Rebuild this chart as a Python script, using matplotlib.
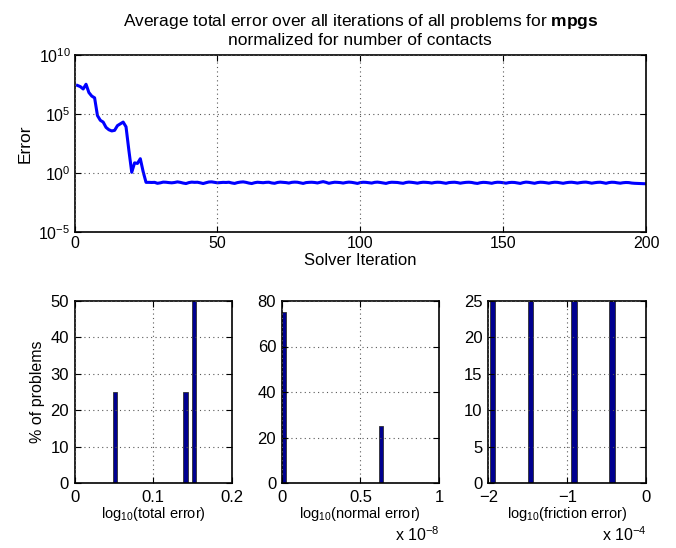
import numpy as np
import matplotlib
matplotlib.use("Agg")
import matplotlib.pyplot as plt
from matplotlib.ticker import FixedLocator, NullLocator, FixedFormatter

plt.rcParams['font.family'] = ['Liberation Sans', 'DejaVu Sans']
plt.rcParams['mathtext.fontset'] = 'custom'
plt.rcParams['mathtext.rm'] = 'Liberation Sans'
plt.rcParams['mathtext.it'] = 'Liberation Sans:italic'
plt.rcParams['mathtext.bf'] = 'Liberation Sans:bold'

# ---- data: log10 of average total error per solver iteration (1..200) ----
log_err_head = [7.4, 7.3, 7.1, 7.5, 6.8, 6.5, 6.35, 4.85, 4.45, 4.3,
                3.85, 3.65, 3.55, 3.6, 4.0, 4.15, 4.3, 3.9, 1.9, 0.05,
                0.85, 0.8, 1.2, 0.1, -0.8]
log_err_tail = [-0.80, -0.81, -0.80, -0.88, -0.84, -0.78, -0.79, -0.82, -0.84, -0.81,
                -0.76, -0.80, -0.86, -0.90, -0.82, -0.78, -0.80, -0.79, -0.84, -0.90,
                -0.83, -0.77, -0.76, -0.80, -0.84, -0.82, -0.80, -0.81, -0.79, -0.85,
                -0.89, -0.82, -0.78, -0.76, -0.80, -0.86, -0.90, -0.83, -0.79, -0.81,
                -0.83, -0.80, -0.79, -0.85, -0.88, -0.81, -0.78, -0.80, -0.82, -0.86,
                -0.80, -0.78, -0.79, -0.84, -0.89, -0.82, -0.80, -0.79, -0.81, -0.85,
                -0.79, -0.74, -0.80, -0.88, -0.83, -0.79, -0.80, -0.82, -0.86, -0.81,
                -0.78, -0.80, -0.84, -0.89, -0.82, -0.79, -0.80, -0.83, -0.86, -0.80,
                -0.78, -0.81, -0.85, -0.89, -0.82, -0.79, -0.80, -0.81, -0.85, -0.88,
                -0.81, -0.78, -0.80, -0.83, -0.87, -0.82, -0.79, -0.80, -0.82, -0.86,
                -0.81, -0.79, -0.80, -0.84, -0.88, -0.82, -0.80, -0.79, -0.82, -0.87,
                -0.83, -0.80, -0.79, -0.81, -0.86, -0.89, -0.83, -0.80, -0.81, -0.84,
                -0.88, -0.82, -0.79, -0.80, -0.83, -0.87, -0.82, -0.80, -0.81, -0.85,
                -0.89, -0.82, -0.78, -0.80, -0.84, -0.88, -0.82, -0.79, -0.80, -0.83,
                -0.87, -0.82, -0.79, -0.80, -0.84, -0.88, -0.83, -0.80, -0.79, -0.82,
                -0.86, -0.82, -0.79, -0.78, -0.82, -0.87, -0.83, -0.80, -0.79, -0.83,
                -0.88, -0.82, -0.79, -0.80, -0.84, -0.87, -0.83, -0.81, -0.82, -0.86,
                -0.88, -0.89, -0.90, -0.91, -0.92]
log_err = log_err_head + log_err_tail
iterations = list(range(1, len(log_err) + 1))

# ---- histogram data (% of problems) ----
total_centers = [0.0513, 0.141, 0.152]
total_pct = [25, 25, 50]
total_width = 0.0055

normal_centers = [0.016e-8, 0.629e-8]
normal_pct = [75, 25]
normal_width = 0.028e-8

friction_centers = [-1.947e-4, -1.466e-4, -0.910e-4, -0.434e-4]
friction_pct = [25, 25, 25, 25]
friction_width = 0.075e-4

W, H = 676, 548
fig = plt.figure(figsize=(W / 100, H / 100), dpi=100)

def box(x0, y0, x1, y1):
    return [x0 / W, 1 - y1 / H, (x1 - x0) / W, (y1 - y0) / H]

grid_kw = dict(color='0.35', linestyle=(0, (1, 3)), linewidth=0.8)

def style(ax, fs, xpad=3, ypad=3):
    ax.tick_params(direction='in', top=True, right=True, length=4, width=0.8,
                   labelsize=fs)
    ax.tick_params(axis='x', pad=xpad)
    ax.tick_params(axis='y', pad=ypad)
    for s in ax.spines.values():
        s.set_linewidth(1.2)
    ax.grid(True, **grid_kw)
    ax.set_axisbelow(False)

# ---- top line plot ----
ax = fig.add_axes(box(74.6, 54.7, 646, 232))
ax.plot(iterations, 10.0 ** np.array(log_err), color='#0000ff', linewidth=2.2)
ax.set_yscale('log')
ax.set_xlim(0, 200)
ax.set_ylim(1e-5, 1e10)
ax.yaxis.set_major_locator(FixedLocator([1e-5, 1e0, 1e5, 1e10]))
ax.yaxis.set_minor_locator(NullLocator())
ax.set_xticks([0, 50, 100, 150, 200])
style(ax, 11.5)
ax.set_xlabel('Solver Iteration', fontsize=12, labelpad=1)
ax.set_ylabel('Error', fontsize=12.5, labelpad=4)
ax.set_title('Average total error over all iterations of all problems for $\\bf{mpgs}$\n'
             'normalized for number of contacts', fontsize=12.5, pad=7, linespacing=1.2)

# ---- bottom histograms ----
y_top, y_bot = 301, 483
ax1 = fig.add_axes(box(74.6, y_top, 231.7, y_bot))
ax1.bar(total_centers, total_pct, width=total_width, color='#00008f',
        edgecolor='#303030', linewidth=0.6)
ax1.set_xlim(0, 0.2)
ax1.set_ylim(0, 50)
ax1.set_xticks([0, 0.1, 0.2])
ax1.xaxis.set_major_formatter(FixedFormatter(['0', '0.1', '0.2']))
ax1.set_yticks([0, 10, 20, 30, 40, 50])
style(ax1, 12, xpad=5, ypad=4)
ax1.set_xlabel('log$_{10}$(total error)', fontsize=10.5, labelpad=0)
ax1.set_ylabel('% of problems', fontsize=11.5, labelpad=4)

ax2 = fig.add_axes(box(281.7, y_top, 439.2, y_bot))
ax2.bar(normal_centers, normal_pct, width=normal_width, color='#00008f',
        edgecolor='#303030', linewidth=0.6)
ax2.set_xlim(0, 1e-8)
ax2.set_ylim(0, 80)
ax2.set_xticks([0, 0.5e-8, 1e-8])
ax2.xaxis.set_major_formatter(FixedFormatter(['0', '0.5', '1']))
ax2.set_yticks([0, 20, 40, 60, 80])
style(ax2, 12, xpad=5, ypad=4)
ax2.set_xlabel('log$_{10}$(normal error)', fontsize=10.5, labelpad=0)
ax2.text(1.0, -0.235, 'x 10$^{-8}$', transform=ax2.transAxes, ha='right', va='top',
         fontsize=11.5)

ax3 = fig.add_axes(box(488.3, y_top, 646.3, y_bot))
ax3.bar(friction_centers, friction_pct, width=friction_width, color='#00008f',
        edgecolor='#303030', linewidth=0.6)
ax3.set_xlim(-2e-4, 0)
ax3.set_ylim(0, 25)
ax3.set_xticks([-2e-4, -1e-4, 0])
ax3.xaxis.set_major_formatter(FixedFormatter(['\u22122', '\u22121', '0']))
ax3.set_yticks([0, 5, 10, 15, 20, 25])
style(ax3, 12, xpad=5, ypad=4)
ax3.set_xlabel('log$_{10}$(friction error)', fontsize=10.5, labelpad=0)
ax3.text(1.0, -0.235, 'x 10$^{-4}$', transform=ax3.transAxes, ha='right', va='top',
         fontsize=11.5)

fig.savefig('out.png', dpi=100)
